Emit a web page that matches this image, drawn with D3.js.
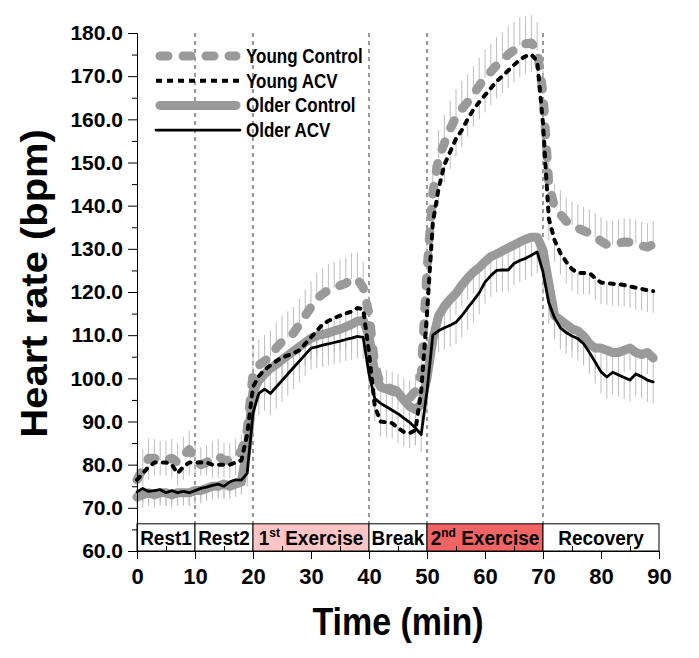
<!DOCTYPE html>
<html>
<head>
<meta charset="utf-8">
<script src="https://cdn.jsdelivr.net/npm/d3@7"></script>
<style>
  body { margin: 0; background: #fff; }
  text { font-family: "Liberation Sans", Arial, sans-serif; font-weight: bold; fill: #000; }
</style>
</head>
<body>
<div id="container"></div>
<script>
/* CONSTANTS AND GLOBALS */
const width = 699;
const height = 658;
const margin = {top: 33, bottom: 107, left: 137, right: 40};

/* DATA (one value per minute) */
const minutes = d3.range(0, 90);

const youngControl = [76.5,79,81.5,81.5,81,81,81.5,80.5,82,83.5, 81,80,80.5,81.5,82,81,81,82,83,88,
  101,103,104,105,107,108.5,109.5,110.5,112.5,114.5, 116.5,118.5,119.5,120.5,121,121.5,122,123,123,121,
  115,103,98.5,98,97.5,97,96,95.5,97,101, 125,143,151,154.5,157.8,160.5,162.4,164,165.8,167.8,
  169.7,171,172.5,173.8,175,176,177.2,177.5,177.7,176, 166,145,139.5,138,136.4,135.5,134.8,134.2,133.6,132.8,
  131.8,131,131,131.3,131.6,131.5,131.2,130.7,130.4,131];

const youngACV = [76.5,78,79.5,80.5,80.5,80.5,80,78,79.5,80.5, 80.5,80.5,80.5,80,80,80,80,80.5,81,87,
  98,100.5,102,103,104,104.8,105.3,105.8,106.5,108, 109.5,111,112.5,113.3,114,114.5,115,115.5,116.3,116,
  106,93.5,90,89.8,89.6,88.5,87.6,87.3,88,97, 115,136,144,149.5,152.5,155.5,157.5,160,162.3,164,
  165.6,167.2,168.8,170,171.3,172.6,173.8,174.6,175,173.5, 159,137,132,129,127,125.3,124.4,124.4,124.4,123.2,
  122.2,122,121.9,121.8,121.6,121.3,121,120.7,120.4,120.2];

const olderControl = [72.5,73,73.5,73,73.5,73.5,73,73.5,73.5,73.5, 74,74,74.5,75,75,75.5,75,75.5,76,84,
  97,99.5,101,102.3,103.2,104.3,105.3,106.3,107.3,108.3, 109.3,109.8,110.2,110.5,111,111.4,111.9,112.5,113.2,113.5,
  110,101,98,97.5,97,96.7,95,93.5,92.8,94, 100,109,114.5,116.7,118.3,119.7,121.6,123.2,124.6,125.7,
  127,128.2,128.8,129.5,130.2,130.9,131.6,132.2,132.7,132.7, 129.7,122,114.5,113.5,112.5,111.5,111,109.8,108,107,
  107,106.5,106,106,106.5,107,106,105.5,106,104.7];

const olderACV = [73.7,74.5,73.8,74,74.2,73.5,74,73.5,73.8,73.5, 74,74.5,74.8,75.2,75.5,75,76,76.5,76.4,78,
  92,96.5,97.5,96.5,98,99.5,101,102.5,104,105.5, 107,107.3,107.7,108,108.3,108.6,109,109.3,109.7,109.5,
  101,95.3,94.2,93.4,92.6,91.8,90.8,89.8,88.5,87, 97,110,111,111.7,112.3,113,114.5,116.3,118,119.8,
  122.3,123.8,125,125.1,125.1,126.6,127.3,127.8,128.5,129.3, 124.6,117.5,114,111.7,110.6,109.8,109.2,108,106,103.8,
  101.5,100.3,101.4,100.8,100.2,99.6,101,100.4,99.6,99.2];

// error bar length per phase (Rest1, Rest2, 1st Ex, Break, 2nd Ex, Recovery)
const youngControlErr = [4.5, 4, 6, 4, 6.5, 5.5];
const youngACVErr = [3, 3, 5, 3.5, 4, 5];
const olderControlErr = [3, 3, 5, 4, 5, 5];
const olderACVErr = [3, 3, 5, 4, 5, 5];

// phases
const phaseStart = [0, 10, 20, 40, 50, 70];
const phaseEnd = [10, 20, 40, 50, 70, 90];
const phaseLabel = ["Rest1", "Rest2", "1", "Break", "2", "Recovery"];
const phaseSup = ["", "", "st", "", "nd", ""];
const phaseRest = ["", "", " Exercise", "", " Exercise", ""];
const phaseFill = ["#fff", "#fff", "#fbc5c5", "#fff", "#f26363", "#fff"];
const dividers = [10, 20, 40, 50, 70];
const barTop = 66.3;

const xTicks = [0, 10, 20, 30, 40, 50, 60, 70, 80, 90];
const xMinor = [5, 15, 25, 35, 45, 55, 65, 75, 85];
const yTicks = [60, 70, 80, 90, 100, 110, 120, 130, 140, 150, 160, 170, 180];
const yMinor = [65, 75, 85, 95, 105, 115, 125, 135, 145, 155, 165, 175];

const seriesNames = ["Young Control", "Young ACV", "Older Control", "Older ACV"];

/* SCALES */
const xScale = d3.scaleLinear().domain([0, 90]).range([margin.left, width - margin.right]);
const yScale = d3.scaleLinear().domain([60, 180]).range([height - margin.bottom, margin.top]);

const phaseOf = t => phaseStart.filter(s => t >= s).length - 1;

const series = [
  {name: seriesNames[0], values: youngControl, err: youngControlErr, dir: 1,
   stroke: "#9a9a9a", w: 9, dash: "8,15", cap: "round"},
  {name: seriesNames[1], values: youngACV, err: youngACVErr, dir: -1,
   stroke: "#000", w: 4, dash: "4,7", cap: "round"},
  {name: seriesNames[2], values: olderControl, err: olderControlErr, dir: -1,
   stroke: "#9a9a9a", w: 9, dash: null, cap: "round"},
  {name: seriesNames[3], values: olderACV, err: olderACVErr, dir: -1,
   stroke: "#000", w: 2.8, dash: null, cap: "round"}
];

const svg = d3.select("#container")
  .append("svg")
    .attr("width", width)
    .attr("height", height)
    .style("background", "#fff");

// vertical dashed phase dividers
svg.append("g")
  .selectAll("line")
  .data(dividers)
  .join("line")
    .attr("x1", d => xScale(d))
    .attr("x2", d => xScale(d))
    .attr("y1", yScale(180))
    .attr("y2", yScale(barTop))
    .attr("stroke", "#333")
    .attr("stroke-width", 1)
    .attr("stroke-dasharray", "4,4");

// error bars
series.forEach(s => {
  svg.append("g")
    .selectAll("line")
    .data(minutes)
    .join("line")
      .attr("x1", t => xScale(t))
      .attr("x2", t => xScale(t))
      .attr("y1", t => yScale(s.values[t]))
      .attr("y2", t => yScale(s.values[t] + s.dir * s.err[phaseOf(t)]))
      .attr("stroke", "#bdbdbd")
      .attr("stroke-width", 1);
});

// lines (gray ones first)
const line = d3.line()
  .x((d, i) => xScale(minutes[i]))
  .y(d => yScale(d));

[2, 0, 1, 3].forEach(k => {
  const s = series[k];
  svg.append("path")
    .attr("d", line(s.values))
    .attr("fill", "none")
    .attr("stroke", s.stroke)
    .attr("stroke-width", s.w)
    .attr("stroke-linecap", s.cap)
    .attr("stroke-linejoin", "round")
    .attr("stroke-dasharray", s.dash);
});

// phase bar
const phases = svg.append("g")
  .selectAll("g")
  .data(phaseStart)
  .join("g");

phases.append("rect")
  .attr("x", (d, i) => xScale(d))
  .attr("y", yScale(barTop))
  .attr("width", (d, i) => xScale(phaseEnd[i]) - xScale(d))
  .attr("height", yScale(60) - yScale(barTop))
  .attr("fill", (d, i) => phaseFill[i])
  .attr("stroke", "#000")
  .attr("stroke-width", 1);

const phaseText = phases.append("text")
  .attr("transform", (d, i) => `translate(${xScale((d + phaseEnd[i]) / 2)}, ${yScale(60) - 6}) scale(1, 1.1)`)
  .attr("text-anchor", "middle")
  .style("font-size", "19px");
phaseText.append("tspan").text((d, i) => phaseLabel[i]);
phaseText.append("tspan")
  .attr("dy", -7)
  .style("font-size", "12px")
  .text((d, i) => phaseSup[i]);
phaseText.append("tspan")
  .attr("dy", (d, i) => phaseSup[i] ? 7 : 0)
  .text((d, i) => phaseRest[i]);

// axes
const xAxis = d3.axisBottom(xScale).tickValues(xTicks).tickSize(8).tickSizeOuter(0).tickPadding(9);
const xAxisMinor = d3.axisTop(xScale).tickValues(xMinor).tickSize(5).tickSizeOuter(0).tickFormat("");
const yAxis = d3.axisLeft(yScale).tickValues(yTicks).tickSize(9).tickSizeOuter(0)
  .tickPadding(5).tickFormat(d3.format(".1f"));
const yAxisMinor = d3.axisLeft(yScale).tickValues(yMinor).tickSize(5).tickSizeOuter(0).tickFormat("");

const xAxisGroup = svg.append("g")
  .attr("transform", `translate(0, ${yScale(60)})`)
  .call(xAxis);
svg.append("g")
  .attr("transform", `translate(0, ${yScale(60)})`)
  .call(xAxisMinor);
const yAxisGroup = svg.append("g")
  .attr("transform", `translate(${xScale(0)}, 0)`)
  .call(yAxis);
svg.append("g")
  .attr("transform", `translate(${xScale(0)}, 0)`)
  .call(yAxisMinor);

svg.selectAll(".domain, .tick line").attr("stroke", "#000").attr("stroke-width", 1);
xAxisGroup.selectAll("text").style("font-size", "22px").style("font-family", "Liberation Sans").style("font-weight", "bold");
yAxisGroup.selectAll("text").style("font-size", "21px").style("font-family", "Liberation Sans").style("font-weight", "bold");

// axis titles
svg.append("text")
  .attr("text-anchor", "middle")
  .attr("transform", `translate(47, ${yScale(122)}) rotate(-90) scale(1.08, 1)`)
  .style("font-size", "37px")
  .text("Heart rate (bpm)");

svg.append("text")
  .attr("text-anchor", "middle")
  .attr("transform", `translate(${xScale(45)}, 635) scale(1, 1.12)`)
  .style("font-size", "34px")
  .text("Time (min)");

// legend
const legend = svg.append("g")
  .selectAll("g")
  .data(series)
  .join("g")
    .attr("transform", (d, i) => `translate(156, ${56 + i * 24.7})`);

legend.append("line")
  .attr("x1", d => d.w > 5 ? 4 : 0)
  .attr("x2", d => d.w > 5 ? 80 : 84)
  .attr("stroke", d => d.stroke)
  .attr("stroke-width", d => d.w)
  .attr("stroke-linecap", d => d.dash && d.w < 5 ? "butt" : "round")
  .attr("stroke-dasharray", d => d.dash && d.w < 5 ? "6,5" : d.dash);

legend.append("text")
  .attr("transform", "translate(90, 7) scale(1, 1.2)")
  .style("font-size", "17px")
  .text(d => d.name);
</script>
</body>
</html>
